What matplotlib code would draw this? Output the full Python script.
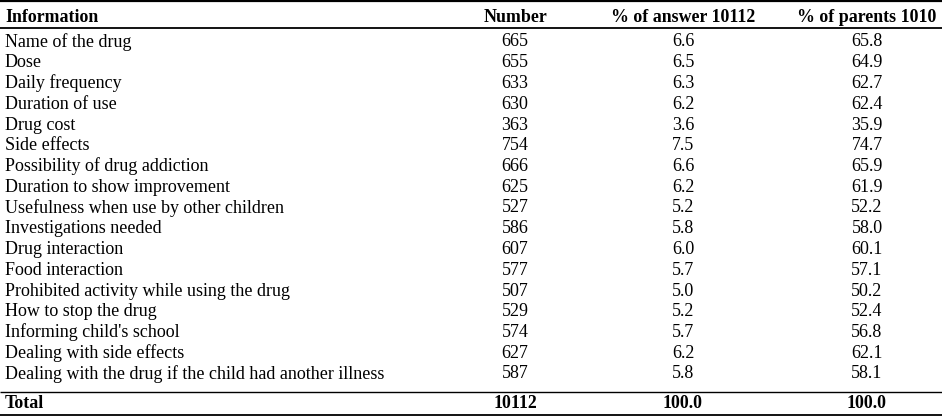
import matplotlib.pyplot as plt

info = ["Name of the drug", "Dose", "Daily frequency", "Duration of use", "Drug cost",
        "Side effects", "Possibility of drug addiction", "Duration to show improvement",
        "Usefulness when use by other children", "Investigations needed", "Drug interaction",
        "Food interaction", "Prohibited activity while using the drug", "How to stop the drug",
        "Informing child's school", "Dealing with side effects",
        "Dealing with the drug if the child had another illness"]
number = [665, 655, 633, 630, 363, 754, 666, 625, 527, 586, 607, 577, 507, 529, 574, 627, 587]
pct_answer = ["6.6", "6.5", "6.3", "6.2", "3.6", "7.5", "6.6", "6.2", "5.2", "5.8", "6.0",
              "5.7", "5.0", "5.2", "5.7", "6.2", "5.8"]
pct_parents = ["65.8", "64.9", "62.7", "62.4", "35.9", "74.7", "65.9", "61.9", "52.2", "58.0",
               "60.1", "57.1", "50.2", "52.4", "56.8", "62.1", "58.1"]
headers = ["Information", "Number", "% of answer 10112", "% of parents 1010"]
total = ["Total", "10112", "100.0", "100.0"]

plt.rcParams['font.family'] = ['Liberation Serif', 'DejaVu Serif']

fig = plt.figure(figsize=(9.42, 4.16), dpi=100)
ax = fig.add_axes([0, 0, 1, 1])
ax.set_xlim(0, 942)
ax.set_ylim(416, 0)
ax.axis('off')

fs = 13
fsb = 12.9
col_x = [5, 515, 683, 867]

# header
ax.text(col_x[0], 17, headers[0], fontsize=fsb, fontweight='bold', va='center', ha='left')
for x, h in zip(col_x[1:], headers[1:]):
    ax.text(x, 17, h, fontsize=fsb, fontweight='bold', va='center', ha='center')

# body
y0, dy = 42, 20.75
for i in range(len(info)):
    y = y0 + i * dy
    ax.text(col_x[0], y, info[i], fontsize=fs, va='center', ha='left')
    ax.text(col_x[1], y, str(number[i]), fontsize=fs, va='center', ha='center')
    ax.text(col_x[2], y, pct_answer[i], fontsize=fs, va='center', ha='center')
    ax.text(col_x[3], y, pct_parents[i], fontsize=fs, va='center', ha='center')

# total
ax.text(col_x[0], 403, total[0], fontsize=fsb, fontweight='bold', va='center', ha='left')
for x, t in zip(col_x[1:], total[1:]):
    ax.text(x, 403, t, fontsize=fsb, fontweight='bold', va='center', ha='center')

for y, lw in [(1.2, 1.6), (27.5, 1.3), (391.5, 1.0), (414.5, 1.3)]:
    ax.plot([0, 942], [y, y], color='black', lw=lw, solid_capstyle='butt')

fig.savefig('out.png', dpi=100)
